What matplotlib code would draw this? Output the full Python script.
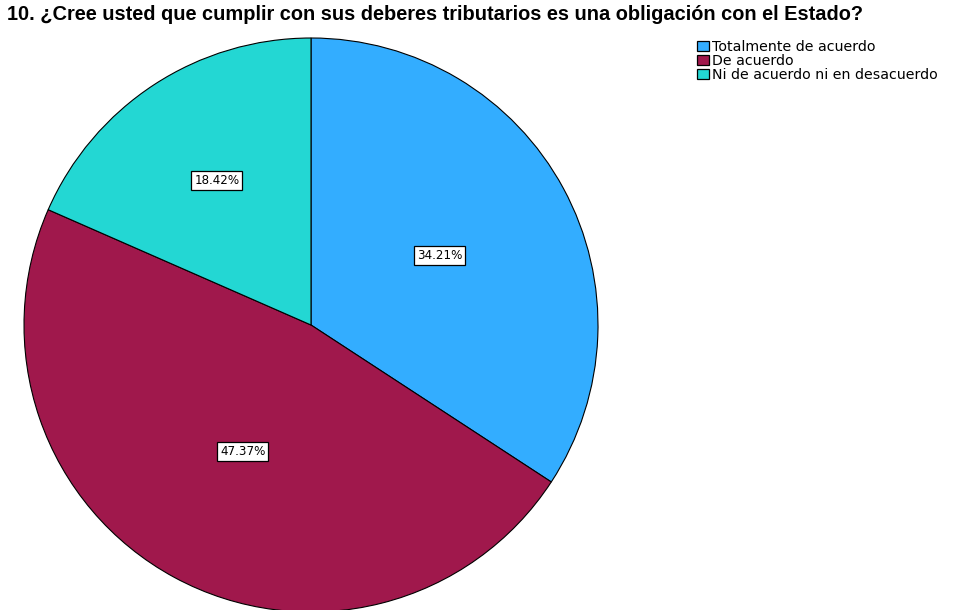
import numpy as np
import matplotlib
matplotlib.use('Agg')
import matplotlib.pyplot as plt
from matplotlib.patches import Patch

# Survey answers (percent)
categories = ['Totalmente de acuerdo', 'De acuerdo', 'Ni de acuerdo ni en desacuerdo']
percentages = [34.21, 47.37, 18.42]
colors = ['#33adff', '#a0184c', '#23d7d3']
label_radius = [0.51, 0.5, 0.6]

title = '10. ¿Cree usted que cumplir con sus deberes tributarios es una obligación con el Estado?'

plt.rcParams['font.family'] = ['Liberation Sans', 'DejaVu Sans']

fig = plt.figure(figsize=(9.57, 6.10), dpi=100)
ax = fig.add_axes([24 / 957, (610 - 325 - 287) / 610, 574 / 957, 574 / 610])

wedges, _ = ax.pie(percentages, colors=colors, startangle=90, counterclock=False,
                   radius=1.0, wedgeprops=dict(edgecolor='black', linewidth=0.8))
ax.set_xlim(-1, 1)
ax.set_ylim(-1, 1)
ax.set_aspect('equal')
ax.axis('off')

for w, p, r in zip(wedges, percentages, label_radius):
    mid = np.deg2rad((w.theta1 + w.theta2) / 2)
    ax.text(r * np.cos(mid), r * np.sin(mid), f'{p:.2f}%', ha='center', va='center',
            fontsize=8.6, family='DejaVu Sans',
            bbox=dict(boxstyle='square,pad=0.25', fc='white', ec='black', lw=0.9))

fig.text(7 / 957, 1 - 15 / 610, title, fontsize=14.4, fontweight='bold', va='center', ha='left')

handles = [Patch(facecolor=c, edgecolor='black', linewidth=0.9) for c in colors]
fig.legend(handles, categories, loc='upper left', bbox_to_anchor=(697 / 957, 1 - 40 / 610),
           frameon=False, prop={'family': 'DejaVu Sans', 'size': 10.2},
           handlelength=0.85, handleheight=0.8,
           handletextpad=0.2, labelspacing=0.0, borderpad=0, borderaxespad=0)

plt.savefig('out.png', dpi=100)
